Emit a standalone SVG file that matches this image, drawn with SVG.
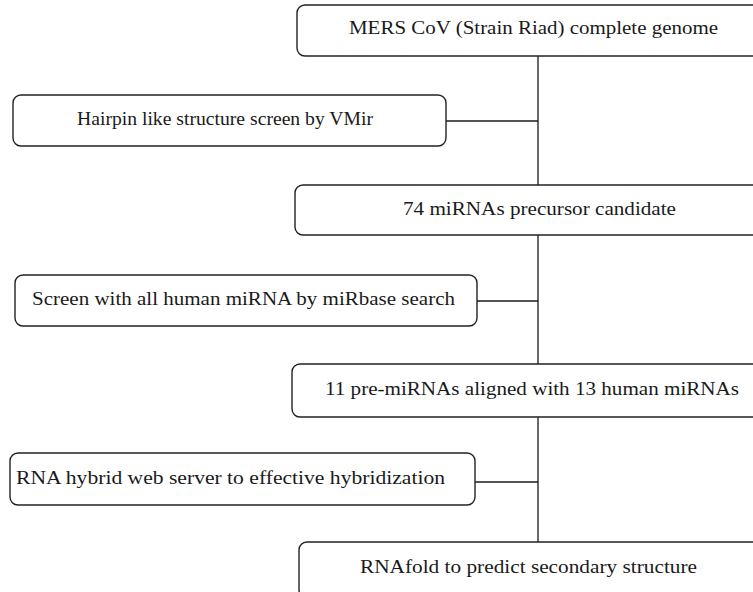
<svg xmlns="http://www.w3.org/2000/svg" width="753" height="592" viewBox="0 0 753 592">
<style>
.box{fill:#fff;stroke:#222;stroke-width:1.4}
.lbl{font-family:"Liberation Serif","DejaVu Serif",serif;font-size:19px;fill:#1a1a1a}
.con{stroke:#1a1a1a;stroke-width:1.3;fill:none}
</style>
<rect width="753" height="592" fill="#fff"/>
<g id="connectors">
<line class="con" x1="538" y1="56" x2="538" y2="185"/>
<line class="con" x1="446" y1="121" x2="538" y2="121"/>
<line class="con" x1="538" y1="235" x2="538" y2="364"/>
<line class="con" x1="477" y1="301" x2="538" y2="301"/>
<line class="con" x1="538" y1="417" x2="538" y2="542"/>
<line class="con" x1="475" y1="482" x2="538" y2="482"/>
</g>
<g id="n1">
<rect class="box" x="297" y="5" width="470" height="51" rx="8"/>
<text class="lbl" x="349" y="34" textLength="369" lengthAdjust="spacingAndGlyphs">MERS CoV (Strain Riad) complete genome</text>
</g>
<g id="n2">
<rect class="box" x="13" y="95" width="433" height="51" rx="8"/>
<text class="lbl" x="77" y="125" textLength="296" lengthAdjust="spacingAndGlyphs">Hairpin like structure screen by VMir</text>
</g>
<g id="n3">
<rect class="box" x="295" y="185" width="470" height="50" rx="8"/>
<text class="lbl" x="403" y="215" textLength="273" lengthAdjust="spacingAndGlyphs">74 miRNAs precursor candidate</text>
</g>
<g id="n4">
<rect class="box" x="15" y="275" width="462" height="51" rx="8"/>
<text class="lbl" x="32" y="305" textLength="423" lengthAdjust="spacingAndGlyphs">Screen with all human miRNA by miRbase search</text>
</g>
<g id="n5">
<rect class="box" x="292" y="364" width="475" height="53" rx="8"/>
<text class="lbl" x="325" y="395" textLength="414" lengthAdjust="spacingAndGlyphs">11 pre-miRNAs aligned with 13 human miRNAs</text>
</g>
<g id="n6">
<rect class="box" x="10" y="453" width="465" height="52" rx="8"/>
<text class="lbl" x="16" y="484" textLength="429" lengthAdjust="spacingAndGlyphs">RNA hybrid web server to effective hybridization</text>
</g>
<g id="n7">
<rect class="box" x="299" y="542" width="468" height="56" rx="8"/>
<text class="lbl" x="360" y="573" textLength="337" lengthAdjust="spacingAndGlyphs">RNAfold to predict secondary structure</text>
</g>
</svg>
